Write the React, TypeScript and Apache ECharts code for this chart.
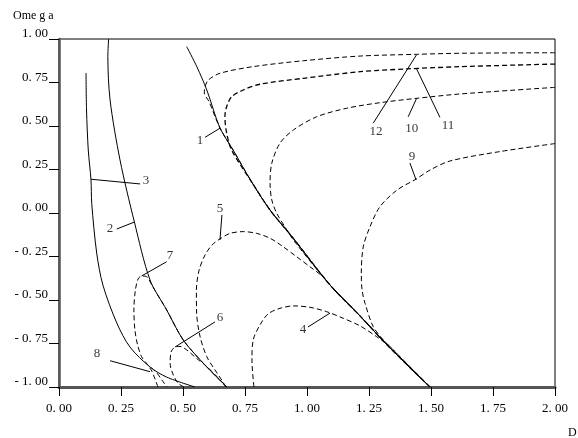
import React, { useEffect, useRef } from 'react';
import * as echarts from 'echarts';

const xTicks = [0, 0.25, 0.5, 0.75, 1, 1.25, 1.5, 1.75, 2];
const xTickLabels = ['0. 00', '0. 25', '0. 50', '0. 75', '1. 00', '1. 25', '1. 50', '1. 75', '2. 00'];
const yTicks = [-1, -0.75, -0.5, -0.25, 0, 0.25, 0.5, 0.75, 1];
const yTickLabels = ['- 1. 00', '- 0. 75', '- 0. 50', '- 0. 25', '0. 00', '0. 25', '0. 50', '0. 75', '1. 00'];

// solid curves
const curve1 = [[0.515, 0.956], [0.556, 0.84], [0.596, 0.707], [0.649, 0.489], [0.702, 0.362], [0.777, 0.178], [0.851, 0.017], [0.944, -0.144], [1.093, -0.414], [1.214, -0.592], [1.335, -0.776], [1.496, -1.0]];
const curve2 = [[0.2, 1.0], [0.197, 0.9], [0.206, 0.649], [0.246, 0.305], [0.304, -0.052], [0.367, -0.385], [0.434, -0.557], [0.501, -0.73], [0.581, -0.862], [0.676, -1.0]];
const curve3 = [[0.109, 0.805], [0.111, 0.592], [0.118, 0.362], [0.129, 0.19], [0.132, 0.055], [0.152, -0.23], [0.177, -0.414], [0.233, -0.632], [0.286, -0.77], [0.367, -0.885], [0.434, -0.943], [0.548, -1.0]];

// dashed curves
const curve4 = [[0.786, -1.0], [0.778, -0.845], [0.783, -0.73], [0.81, -0.644], [0.843, -0.58], [0.891, -0.548], [0.945, -0.534], [1.012, -0.542], [1.079, -0.567], [1.146, -0.605], [1.214, -0.649], [1.281, -0.711], [1.335, -0.768], [1.367, -0.816], [1.496, -1.0]];
const curve5 = [[0.673, -1.0], [0.656, -0.96], [0.629, -0.902], [0.596, -0.826], [0.569, -0.711], [0.555, -0.576], [0.554, -0.443], [0.565, -0.328], [0.589, -0.241], [0.617, -0.184], [0.649, -0.149], [0.69, -0.117], [0.743, -0.107], [0.797, -0.117], [0.851, -0.145], [0.904, -0.194], [0.958, -0.251], [1.012, -0.309], [1.066, -0.368], [1.093, -0.414], [1.214, -0.592], [1.335, -0.776], [1.496, -1.0]];
const curve6 = [[0.504, -1.0], [0.481, -0.979], [0.461, -0.931], [0.448, -0.864], [0.452, -0.799], [0.468, -0.77], [0.488, -0.767], [0.515, -0.787], [0.555, -0.836], [0.593, -0.879], [0.63, -0.93], [0.676, -1.0]];
const curve7 = [[0.399, -1.0], [0.387, -0.954], [0.374, -0.908], [0.355, -0.868], [0.333, -0.826], [0.317, -0.759], [0.306, -0.672], [0.302, -0.557], [0.308, -0.443], [0.319, -0.379], [0.333, -0.362], [0.354, -0.366], [0.374, -0.414], [0.394, -0.461], [0.434, -0.557], [0.501, -0.73], [0.581, -0.862], [0.676, -1.0]];
const curve8 = [[0.372, -0.889], [0.395, -0.92], [0.415, -0.96], [0.435, -1.0]];
const curve9 = [[2.0, 0.399], [1.778, 0.353], [1.577, 0.299], [1.496, 0.247], [1.44, 0.195], [1.363, 0.132], [1.294, 0.036], [1.254, -0.079], [1.227, -0.194], [1.219, -0.345], [1.222, -0.443], [1.234, -0.519], [1.267, -0.653], [1.308, -0.73], [1.342, -0.778], [1.496, -1.0]];
const curve10 = [[2.0, 0.722], [1.617, 0.684], [1.442, 0.659], [1.294, 0.634], [1.16, 0.602], [1.039, 0.553], [0.945, 0.477], [0.891, 0.401], [0.858, 0.286], [0.851, 0.171], [0.858, 0.075], [0.878, -0.002], [0.911, -0.079], [0.945, -0.155], [1.093, -0.414], [1.214, -0.592], [1.335, -0.776], [1.496, -1.0]];
const curve11 = [[2.0, 0.856], [1.617, 0.841], [1.402, 0.828], [1.214, 0.812], [0.985, 0.774], [0.81, 0.74], [0.743, 0.707], [0.696, 0.668], [0.676, 0.611], [0.669, 0.553], [0.676, 0.46], [0.696, 0.362], [0.777, 0.178], [0.851, 0.017], [0.944, -0.144], [1.093, -0.414], [1.214, -0.592], [1.335, -0.776], [1.496, -1.0]];
const curve12 = [[2.0, 0.921], [1.617, 0.918], [1.442, 0.912], [1.214, 0.902], [0.985, 0.875], [0.782, 0.841], [0.649, 0.803], [0.602, 0.764], [0.589, 0.726], [0.586, 0.69], [0.605, 0.64], [0.649, 0.489], [0.702, 0.362], [0.777, 0.178], [0.851, 0.017], [0.944, -0.144], [1.093, -0.414], [1.214, -0.592], [1.335, -0.776], [1.496, -1.0]];

// curve labels and their leader lines
const labelNames = ['1', '2', '3', '4', '5', '6', '7', '8', '9', '10', '11', '12'];
const labelPos = [[0.569, 0.42], [0.206, -0.086], [0.351, 0.19], [0.984, -0.661], [0.649, 0.034], [0.649, -0.592], [0.448, -0.241], [0.153, -0.799], [1.423, 0.333], [1.422, 0.494], [1.569, 0.506], [1.278, 0.477]];
const leaders = [
  [[0.589, 0.435], [0.649, 0.487]],
  [[0.233, -0.092], [0.304, -0.052]],
  [[0.129, 0.194], [0.327, 0.167]],
  [[1.004, -0.655], [1.093, -0.575]],
  [[0.657, -0.011], [0.649, -0.155]],
  [[0.629, -0.626], [0.468, -0.77]],
  [[0.434, -0.28], [0.333, -0.362]],
  [[0.206, -0.849], [0.367, -0.912]],
  [[1.415, 0.287], [1.44, 0.19]],
  [[1.408, 0.553], [1.442, 0.659]],
  [[1.536, 0.55], [1.442, 0.828]],
  [[1.267, 0.516], [1.442, 0.91]],
];

const FONT = 'Liberation Serif';

function lookup(ticks: number[], labels: string[], v: number) {
  const i = ticks.findIndex((t) => Math.abs(t - v) < 1e-6);
  return i >= 0 ? labels[i] : '';
}

export default function App() {
  const ref = useRef<HTMLDivElement>(null);
  useEffect(() => {
    if (!ref.current) return;
    const chart = echarts.init(ref.current, undefined, { renderer: 'svg' });
    const solid = (data: number[][]) => ({
      type: 'line', data, showSymbol: false, smooth: 0.3, clip: true,
      lineStyle: { color: '#000', width: 1 }, silent: true,
    });
    const dashed = (data: number[][], width = 1) => ({
      type: 'line', data, showSymbol: false, smooth: 0.3, clip: true,
      lineStyle: { color: '#000', width, type: [5, 3] }, silent: true,
    });
    chart.setOption({
      animation: false,
      grid: { left: 59, top: 39, right: 23, bottom: 51, show: true, borderColor: '#000', borderWidth: 1 },
      xAxis: {
        type: 'value', min: 0, max: 2, interval: 0.25,
        axisLine: { show: true, onZero: false, lineStyle: { color: '#555', width: 3 } },
        axisTick: { show: true, length: 9, lineStyle: { color: '#000', width: 1 } },
        axisLabel: { margin: 14, fontFamily: FONT, fontSize: 13, color: '#000', formatter: (v: number) => lookup(xTicks, xTickLabels, v) },
        splitLine: { show: false },
      },
      yAxis: {
        type: 'value', min: -1, max: 1, interval: 0.25,
        axisLine: { show: true, onZero: false, lineStyle: { color: '#555', width: 2.5 } },
        axisTick: { show: true, length: 10, lineStyle: { color: '#000', width: 1 } },
        axisLabel: { margin: 11, fontFamily: FONT, fontSize: 13, color: '#000', verticalAlign: 'bottom', formatter: (v: number) => lookup(yTicks, yTickLabels, v) },
        splitLine: { show: false },
      },
      graphic: [
        { type: 'text', left: 13, top: 9, style: { text: 'Ome g a', fontFamily: FONT, fontSize: 12, fill: '#000' } },
        { type: 'text', left: 568, top: 426, style: { text: 'D', fontFamily: FONT, fontSize: 12, fill: '#000' } },
      ],
      series: [
        solid(curve1), solid(curve2), solid(curve3),
        dashed(curve4), dashed(curve5), dashed(curve6), dashed(curve7), dashed(curve8),
        dashed(curve9), dashed(curve10), dashed(curve11, 1.3), dashed(curve12),
        {
          type: 'lines', coordinateSystem: 'cartesian2d', polyline: false, silent: true,
          data: leaders.map((c) => ({ coords: c })),
          lineStyle: { color: '#000', width: 1, opacity: 1 },
        },
        {
          type: 'scatter', symbolSize: 1, silent: true,
          itemStyle: { color: 'rgba(0,0,0,0)' },
          data: labelPos.map((p, i) => [p[0], p[1], labelNames[i]]),
          label: { show: true, position: 'inside', formatter: (p: any) => p.value[2], fontFamily: FONT, fontSize: 13, color: '#000' },
        },
      ],
    });
    return () => chart.dispose();
  }, []);
  return <div ref={ref} style={{ position: 'fixed', left: 0, top: 0, width: 578, height: 438 }} />;
}
